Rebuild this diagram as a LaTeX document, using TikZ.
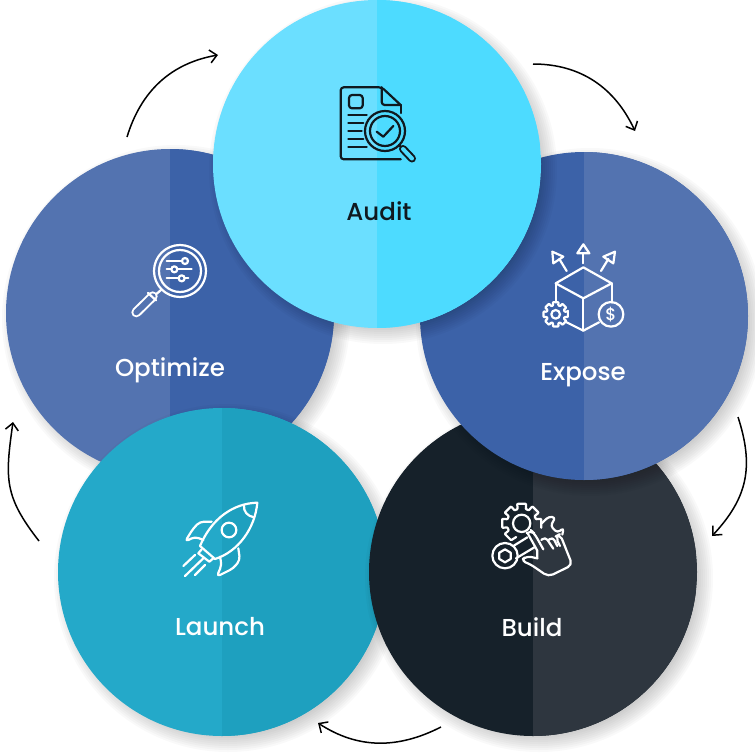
\documentclass[tikz,border=0pt]{standalone}
\usepackage{fontspec}
\setmainfont{Poppins}
\newfontfamily\labelfont{Poppins Medium}
\usetikzlibrary{calc, arrows.meta}

\definecolor{auditleft}{HTML}{6BDFFF}
\definecolor{auditright}{HTML}{4DDBFF}
\definecolor{bluedark}{HTML}{3C62A8}
\definecolor{bluelight}{HTML}{5373B0}
\definecolor{buildleft}{HTML}{16212A}
\definecolor{buildright}{HTML}{2E363F}
\definecolor{launchleft}{HTML}{24A9C9}
\definecolor{launchright}{HTML}{1EA0BF}
\definecolor{inkdark}{HTML}{10191F}

\tikzset{
    stepdisc/.style 2 args={circle, inner sep=0pt, minimum size=328pt, fill=#1,
        path picture={\fill[#2] (path picture bounding box.north) rectangle (path picture bounding box.south east);}},
    steplabel/.style={anchor=base, inner sep=0pt, font=\labelfont\fontsize{24.5}{26}\selectfont},
    flowarrow/.style={-{Straight Barb[length=7pt,width=13pt]}, line width=1.5pt, black},
    iconline/.style={line width=2.2pt, line cap=round, line join=round}
}

\newcommand{\softshadow}[2]{
    \foreach \r in {150,152,...,174} {
        \fill[black, opacity=0.022] (#1+6,#2+6) circle (\r);
    }
}
% open or closed outline of a cog, radius 1 before scaling
\newcommand{\cogteeth}[1]{
    \foreach \a in {#1} {
        -- (\a-13:1) -- (\a+13:1) -- (\a+16:0.74) -- (\a+29:0.74)
    }
}

\begin{document}
\begin{tikzpicture}[x=1pt, y=-1pt]
    \useasboundingbox (0,0) rectangle (755,755);

    % discs, back to front
    \softshadow{170}{313}
    \node[stepdisc={bluelight}{bluedark}] (optimize) at (170,313) {};
    \softshadow{222}{572}
    \node[stepdisc={launchleft}{launchright}] (launch) at (222,572) {};
    \softshadow{533}{572}
    \node[stepdisc={buildleft}{buildright}] (build) at (533,572) {};
    \softshadow{584}{316}
    \node[stepdisc={bluedark}{bluelight}] (expose) at (584,316) {};
    \softshadow{377}{164}
    \node[stepdisc={auditleft}{auditright}] (audit) at (377,164) {};

    \node[steplabel, text=inkdark] (auditlabel) at (379,220) {Audit};
    \node[steplabel, text=white] (exposelabel) at (583,380) {Expose};
    \node[steplabel, text=white] (buildlabel) at (532,636) {Build};
    \node[steplabel, text=white] (launchlabel) at (220,635) {Launch};
    \node[steplabel, text=white] (optimizelabel) at (170,376) {Optimize};

    % arrows between the discs
    \coordinate (optimizeout) at (127,137);
    \coordinate (auditin) at (218,55);
    \coordinate (auditout) at (533,64);
    \coordinate (exposein) at (635,131);
    \coordinate (exposeout) at (738,417);
    \coordinate (buildin) at (712,536);
    \coordinate (buildout) at (441,727);
    \coordinate (launchin) at (318,723);
    \coordinate (launchout) at (39,541);
    \coordinate (optimizein) at (13,422);
    \draw[flowarrow] (optimizeout) to[out=73, in=190] (auditin);
    \draw[flowarrow] (auditout) to[out=0, in=115] (exposein);
    \draw[flowarrow] (exposeout) to[out=-72, in=47, looseness=1.1] (buildin);
    \draw[flowarrow] (buildout) to[out=-153, in=-33] (launchin);
    \draw[flowarrow] (launchout) to[out=128, in=-98, looseness=1.2] (optimizein);

    % audit icon
    \begin{scope}[iconline, draw=inkdark]
        \draw[rounded corners=3pt] (400.7,159.3) -- (340.7,159.3) -- (340.7,87.3) -- (381.7,87.3) -- (400.7,105);
        \draw (400.7,105) -- (400.7,113);
        \draw[rounded corners=3pt] (381.7,87.3) -- (381.7,105) -- (400.7,105);
        \draw[rounded corners=3pt] (349,95) rectangle (362.7,108.3);
        \draw (348.3,115) -- (366.7,115);
        \draw (348.3,123.3) -- (363.3,123.3);
        \draw (348.3,131) -- (361.7,131);
        \draw (348.3,139) -- (363.3,139);
        \draw (348.3,146.7) -- (366.7,146.7);
        \draw (385,131) circle (20);
        \draw (385,131) circle (15);
        \draw (376.7,131.7) -- (383.3,136.7) -- (393.3,126);
        \draw (399,145) -- (403,149);
        \draw[line width=8pt] (403,149) -- (412,158.5);
        \draw[line width=4pt, draw=auditright] (403,149) -- (412,158.5);
    \end{scope}

    % expose icon
    \begin{scope}[iconline, draw=white, shift={(525,235)}, x=0.3333pt, y=-0.3333pt]
        \draw (175,97) -- (260,145) -- (175,190) -- (92,145) -- cycle;
        \draw (175,190) -- (175,287);
        \draw (92,145) -- (92,203);
        \draw (260,145) -- (260,203);
        \draw (125,262) -- (175,287) -- (222,262);
        \draw (175,85) -- (175,55);
        \draw (175,28) -- (157,55) -- (193,55) -- cycle;
        \draw (125,108) -- (103,72);
        \draw (82,50) -- (85,85) -- (115,65) -- cycle;
        \draw (228,108) -- (250,72);
        \draw (270,50) -- (235,65) -- (265,85) -- cycle;
        \draw (92,238) circle (13);
        \draw (258,238) circle (37);
        \node[inner sep=0pt, text=white, font=\labelfont\fontsize{17}{17}\selectfont] (dollar) at (258,238) {\$};
    \end{scope}
    \begin{scope}[iconline, draw=white, shift={(555.7,314.3)}, x=12.5pt, y=-12.5pt]
        \draw[rounded corners=0.7pt] (-13:1) \cogteeth{0,45,90,135,180,225,270,315} -- cycle;
    \end{scope}

    % build icon
    \begin{scope}[iconline, draw=white, shift={(480,490)}, x=0.3333pt, y=-0.3333pt]
        \draw (125,100) circle (26);
        \draw (75,197) circle (38);
        \draw (75,178) -- (92,188) -- (92,207) -- (75,217) -- (58,207) -- (58,188) -- cycle;
        \draw (100,168) -- (142,142);
        \draw (108,205) -- (163,172);
        \draw[rounded corners=3pt] (185,100) -- (206,80) -- (226,82) -- (212,108) -- (232,128) -- (251,114) -- (247,134);
        \draw[rounded corners=5pt] (142,128) -- (152,120) -- (163,130) -- (190,178);
        \draw (142,128) -- (172,182) -- (172,205);
        \draw[rounded corners=5pt] (172,205) -- (140,198) -- (122,212) -- (150,222) -- (205,260) -- (277,225) -- (240,132) -- (226,140) -- (240,168);
        \draw[rounded corners=4pt] (184,150) -- (196,140) -- (220,176);
        \draw[rounded corners=4pt] (206,150) -- (218,140) -- (232,168);
    \end{scope}
    \begin{scope}[iconline, draw=white, shift={(521.7,523.3)}, x=20pt, y=-20pt]
        \draw[rounded corners=0.7pt] (112:0.74) \cogteeth{135,180,225,270,315} -- (347:1) -- (373:1);
    \end{scope}

    % launch icon
    \begin{scope}[iconline, draw=white, shift={(170,490)}, x=0.3333pt, y=-0.3333pt]
        \draw (262,38) .. controls (190,40) and (125,85) .. (90,168) -- (135,207) .. controls (205,185) and (255,115) .. (262,38) -- cycle;
        \draw (222,45) .. controls (220,65) and (232,78) .. (252,82);
        \draw (177,120) circle (22);
        \draw[rounded corners=4pt] (125,95) -- (90,95) -- (70,115) -- (45,155) -- (75,140) -- (100,150);
        \draw[rounded corners=4pt] (205,175) -- (210,210) -- (190,235) -- (140,260) -- (155,225) -- (150,200);
        \draw (95,178) -- (85,190) -- (118,215) -- (130,205);
        \draw (75,195) -- (40,228);
        \draw (100,205) -- (45,258);
        \draw (105,225) -- (75,255);
    \end{scope}

    % optimize icon
    \begin{scope}[iconline, draw=white, shift={(120,235)}, x=0.3333pt, y=-0.3333pt]
        \draw (180,108) circle (78);
        \draw (180,108) circle (63);
        \draw (140,78) -- (186,78);
        \draw (195,78) circle (9);
        \draw (140,103) -- (154,103);
        \draw (172,103) -- (215,103);
        \draw (163,103) circle (9);
        \draw (140,128) -- (176,128);
        \draw (194,128) -- (205,128);
        \draw (185,130) circle (9);
        \draw (123,165) -- (108,178);
        \draw[line width=10pt] (98,184) -- (49,232);
        \draw[line width=6pt, draw=bluelight] (98,184) -- (49,232);
        \draw (84,174) -- (108,196);
    \end{scope}
\end{tikzpicture}
\end{document}
